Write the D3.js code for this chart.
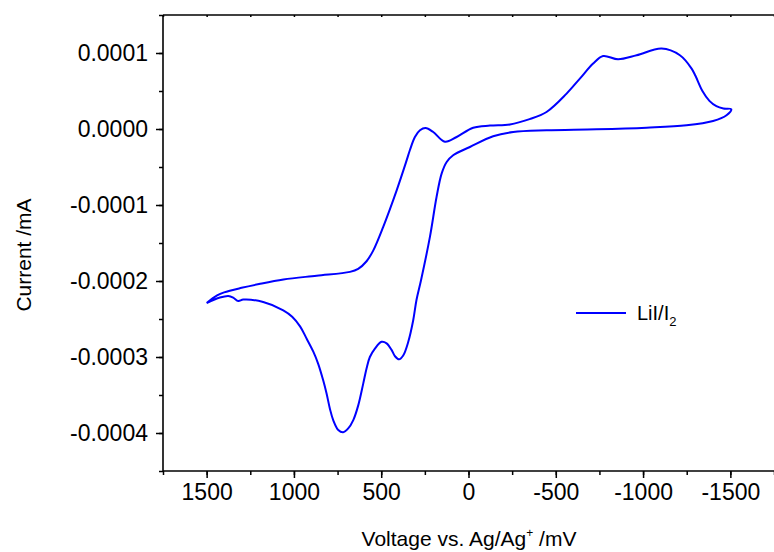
<!DOCTYPE html>
<html>
<head>
<meta charset="utf-8"/>
<title>LiI/I2 CV</title>
<script src="https://cdn.jsdelivr.net/npm/d3@7"></script>
<style>
  body { margin: 0; background: #fff; }
  text { font-family: Arial, "Liberation Sans", sans-serif; fill: #000; }
</style>
</head>
<body>
<svg id="chart" width="774" height="552"></svg>
<script>
// voltage (mV) and current (x1e-4 mA), one full sweep
var voltage = [1500, 1440, 1400, 1300, 1200, 1060, 870, 679, 632, 584, 546, 489, 412, 354, 336, 307,
  278, 246, 202, 135, 68, -27, -123, -237, -350, -447, -562, -638, -714, -771, -857, -963, -1106, -1211,
  -1278, -1300, -1340, -1380, -1420, -1460, -1505,
  -1478, -1401, -1249, -1020, -734, -447, -256, -141, -8, 88, 125, 154, 183, 221, 272, 298, 317, 345, 374, 398,
  421, 440, 469, 498, 536, 565, 584, 603, 632, 660, 689, 718, 746, 775, 794, 813, 832, 861, 889, 927, 964,
  1010, 1061, 1176, 1290, 1319, 1348, 1376, 1424, 1500];
var current = [-2.29, -2.19, -2.15, -2.09, -2.04, -1.98, -1.93, -1.88, -1.84, -1.74, -1.60, -1.29,
  -0.81, -0.41, -0.28, -0.105, -0.017, 0.013, -0.04, -0.168, -0.105, 0.016, 0.045, 0.060, 0.13, 0.224, 0.466,
  0.663, 0.861, 0.96, 0.917, 0.97, 1.058, 0.97, 0.795, 0.70, 0.50, 0.37, 0.30, 0.27, 0.26,
  0.18, 0.105, 0.049, 0.018, -0.004, -0.017, -0.04, -0.096, -0.237, -0.346, -0.434, -0.587, -0.895, -1.42,
  -1.99, -2.25, -2.52, -2.80, -2.98, -3.03, -2.99, -2.91, -2.82, -2.80, -2.89, -3.0, -3.15, -3.35, -3.64,
  -3.83, -3.94, -3.99, -3.96, -3.83, -3.68, -3.48, -3.31, -3.09, -2.93, -2.76, -2.60,
  -2.47, -2.385, -2.276, -2.245, -2.263, -2.218, -2.197, -2.218, -2.29]
  .map(function (d) { return d * 1e-4; });
var xTicks = [1500, 1000, 500, 0, -500, -1000, -1500];
var yTicks = [0.0001, 0, -0.0001, -0.0002, -0.0003, -0.0004];

var svg = d3.select("#chart");
var mLeft = 163, mRight = 774, mTop = 15, mBottom = 471;

var x = d3.scaleLinear().domain([1750, -1750]).range([mLeft, mRight]);
var y = d3.scaleLinear().domain([0.00015, -0.00045]).range([mTop, mBottom]);

var pts = voltage.map(function (v, i) { return [v, current[i]]; });

var line = d3.line()
  .x(function (d) { return x(d[0]); })
  .y(function (d) { return y(d[1]); })
  .curve(d3.curveCatmullRom.alpha(0.5));

svg.append("path")
  .datum(pts)
  .attr("d", line)
  .attr("fill", "none")
  .attr("stroke", "#0000ff")
  .attr("stroke-width", 2);

// plain hyphen for minus, like the original
var fx = function (d) { return String(d); };
var fy = function (d) { return d3.format(".4f")(d).replace("\u2212", "-"); };

// minor ticks
var xMinor = d3.range(1750, -1751, -250);
var yMinor = d3.range(-0.00045, 0.000151, 0.00005);

var gx = svg.append("g").attr("transform", "translate(0," + mBottom + ")");
gx.call(d3.axisBottom(x).tickValues(xMinor).tickSize(4).tickFormat(""));
gx.append("g").call(d3.axisBottom(x).tickValues(xTicks).tickSize(7).tickFormat(fx));

var gxTop = svg.append("g").attr("transform", "translate(0," + mTop + ")");
gxTop.call(d3.axisBottom(x).tickValues(xMinor).tickSize(2).tickFormat(""));

var gy = svg.append("g").attr("transform", "translate(" + mLeft + ",0)");
gy.call(d3.axisLeft(y).tickValues(yMinor).tickSize(4).tickFormat(""));
gy.append("g").call(d3.axisLeft(y).tickValues(yTicks).tickSize(7).tickFormat(fy));

svg.selectAll(".domain").remove();
svg.selectAll(".tick line").attr("stroke", "#000").attr("stroke-width", 1.5);
svg.selectAll(".tick text").style("font-size", "23px").attr("fill", "#000");
gy.selectAll(".tick text").attr("x", -15);
gx.selectAll(".tick text").attr("y", 13);

// frame lines
svg.append("line").attr("x1", mLeft).attr("x2", mRight).attr("y1", mBottom).attr("y2", mBottom)
  .attr("stroke", "#000").attr("stroke-width", 1.6);
svg.append("line").attr("x1", mLeft).attr("x2", mRight).attr("y1", mTop).attr("y2", mTop)
  .attr("stroke", "#000").attr("stroke-width", 1.6);
svg.append("line").attr("x1", mLeft).attr("x2", mLeft).attr("y1", mTop).attr("y2", mBottom)
  .attr("stroke", "#000").attr("stroke-width", 1.6);

// axis titles
svg.append("text")
  .attr("x", 469).attr("y", 546)
  .attr("text-anchor", "middle")
  .style("font-size", "21px")
  .html('Voltage vs. Ag/Ag<tspan dy="-9" font-size="12px">+</tspan><tspan dy="9"> /mV</tspan>');

svg.append("text")
  .attr("transform", "translate(31,255) rotate(-90)")
  .attr("text-anchor", "middle")
  .style("font-size", "21px")
  .text("Current /mA");

// legend
svg.append("line").attr("x1", 576).attr("x2", 626).attr("y1", 313).attr("y2", 313)
  .attr("stroke", "#0000ff").attr("stroke-width", 2);
svg.append("text")
  .attr("x", 637).attr("y", 320)
  .style("font-size", "20px")
  .html('LiI/I<tspan dy="6" font-size="13px">2</tspan>');
</script>
</body>
</html>
